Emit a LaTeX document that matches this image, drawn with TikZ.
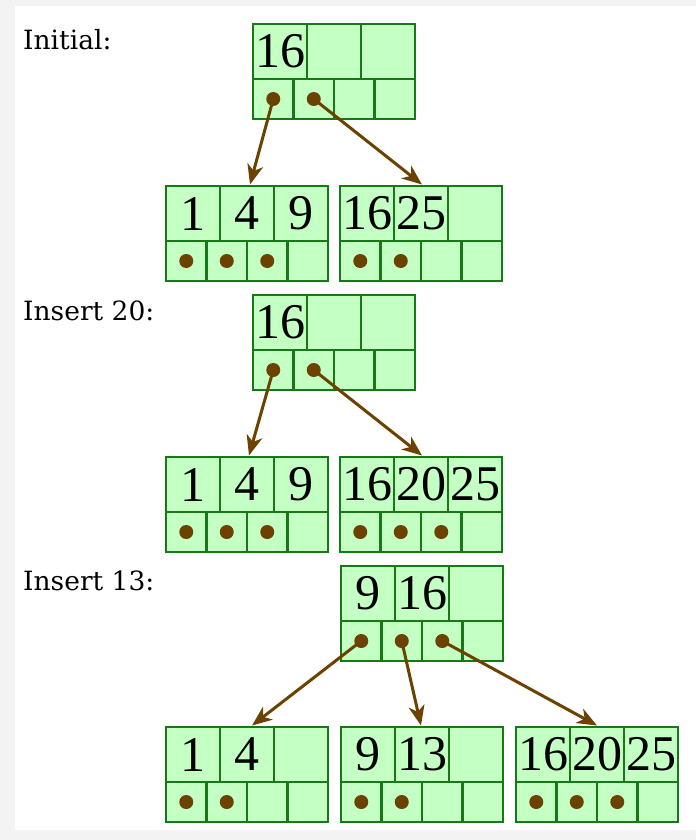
\documentclass[tikz,border=0pt]{standalone}
\usepackage{fontspec}
\setmainfont{Liberation Serif}
\newfontfamily\labelfont{DejaVu Serif}
\usetikzlibrary{arrows.meta}
\definecolor{bgray}{HTML}{F3F3F3}
\definecolor{cellfill}{HTML}{C4FFC4}
\definecolor{celldraw}{HTML}{187818}
\definecolor{ptrc}{HTML}{6B4200}
\tikzset{
 keycell/.style={draw=celldraw, fill=cellfill, line width=2.8pt, minimum width=54pt, minimum height=55pt, inner sep=0pt, outer sep=0pt, anchor=north west, font=\fontsize{50}{50}\selectfont},
 ptrcell/.style={draw=celldraw, fill=cellfill, line width=2.8pt, minimum width=40.5pt, minimum height=40pt, inner sep=0pt, outer sep=0pt, anchor=north west},
 btframe/.style={minimum width=162pt, minimum height=95pt, inner sep=0pt, outer sep=0pt, anchor=north west},
 dotmark/.style={circle, fill=ptrc, minimum size=14pt, inner sep=0pt},
 ptr/.style={draw=ptrc, line width=3pt, -{Stealth[length=20pt,width=16pt,inset=6pt]}},
 lbl/.style={font=\labelfont\fontsize{26.5}{26.5}\selectfont, anchor=base west, inner sep=0pt}
}
\newcommand\btnode[7]{%
 \node[btframe] (#1) at (#2,#3) {};
 \node[keycell] (#1-k1) at (#2,#3) {#4};
 \node[keycell] (#1-k2) at (#2+54,#3) {#5};
 \node[keycell] (#1-k3) at (#2+108,#3) {#6};
 \node[ptrcell] (#1-p1) at (#2,#3+55) {};
 \node[ptrcell] (#1-p2) at (#2+40.5,#3+55) {};
 \node[ptrcell] (#1-p3) at (#2+81,#3+55) {};
 \node[ptrcell] (#1-p4) at (#2+121.5,#3+55) {};
 \ifnum#7>0 \node[dotmark] (#1-d1) at (#1-p1.center) {};\fi
 \ifnum#7>1 \node[dotmark] (#1-d2) at (#1-p2.center) {};\fi
 \ifnum#7>2 \node[dotmark] (#1-d3) at (#1-p3.center) {};\fi
}
\begin{document}
\begin{tikzpicture}[x=1pt,y=-1pt]
\useasboundingbox (0,0) rectangle (696,840);
\fill[bgray] (0,0) rectangle (696,840);
\fill[white] (15,6) rectangle (696,830);
\node[lbl] (L1) at (23,50) {Initial:};
\node[lbl] (L2) at (23,320) {Insert 20:};
\node[lbl] (L3) at (23,590) {Insert 13:};
% row 1
\btnode{P1}{253}{24}{16}{}{}{2}
\btnode{C1a}{166}{186}{1}{4}{9}{3}
\btnode{C1b}{340}{186}{16}{25}{}{2}
% row 2
\btnode{P2}{253}{295}{16}{}{}{2}
\btnode{C2a}{166}{457}{1}{4}{9}{3}
\btnode{C2b}{340}{457}{16}{20}{25}{3}
% row 3
\btnode{P3}{341}{566}{9}{16}{}{3}
\btnode{C3a}{166}{727}{1}{4}{}{2}
\btnode{C3b}{341}{727}{9}{13}{}{2}
\btnode{C3c}{516}{727}{16}{20}{25}{3}
% pointers
\draw[ptr] (P1-d1.center) -- ([xshift=3pt,yshift=1.5pt]C1a.north);
\draw[ptr] (P1-d2.center) -- ([xshift=1pt,yshift=1.5pt]C1b.north);
\draw[ptr] (P2-d1.center) -- ([xshift=2pt,yshift=1.5pt]C2a.north);
\draw[ptr] (P2-d2.center) -- ([xshift=1pt,yshift=1.5pt]C2b.north);
\draw[ptr] (P3-d1.center) -- ([xshift=5pt,yshift=1.5pt]C3a.north);
\draw[ptr] (P3-d2.center) -- ([xshift=-1pt,yshift=1.5pt]C3b.north);
\draw[ptr] (P3-d3.center) -- ([xshift=0pt,yshift=1.5pt]C3c.north);
\end{tikzpicture}
\end{document}
